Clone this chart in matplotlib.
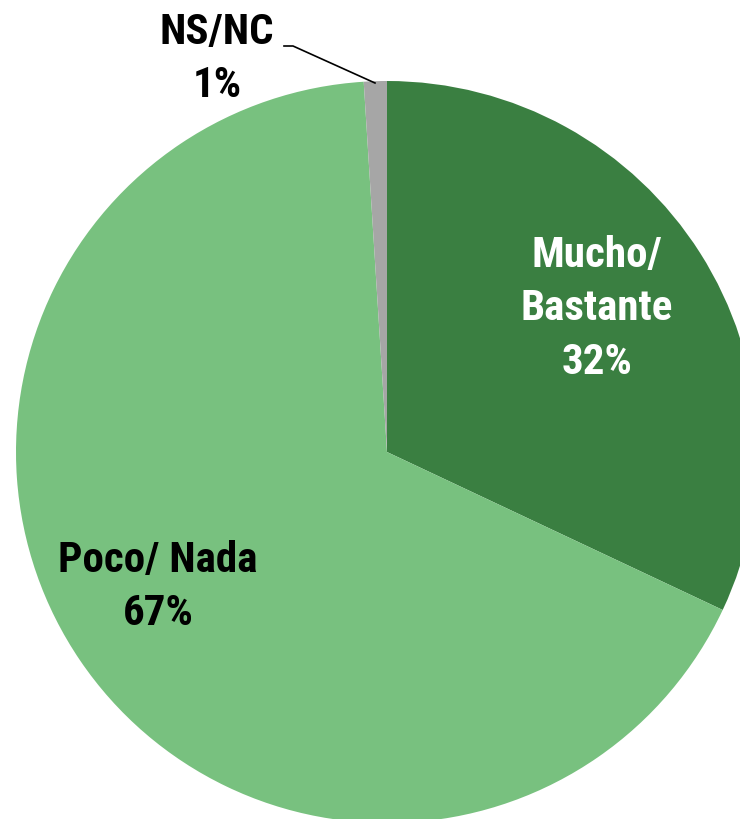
import matplotlib
matplotlib.use("Agg")
import matplotlib.pyplot as plt
from matplotlib import font_manager

categories = ["Mucho/\nBastante", "Poco/ Nada", "NS/NC"]
values = [32, 67, 1]
pct_labels = ["32%", "67%", "1%"]
colors = ["#3A7F41", "#78C17F", "#A6A6A6"]

names = {f.name for f in font_manager.fontManager.ttflist}
fam = [n for n in ["Liberation Sans Narrow", "Roboto Condensed", "Arial Narrow",
                   "Liberation Sans"] if n in names] + ["DejaVu Sans"]

W, H = 740, 819
fig = plt.figure(figsize=(W / 100, H / 100), dpi=100)
ax = fig.add_axes([0, 0, 1, 1])

cx, cy, r = 387, H - 452, 371
ax.pie(values, colors=colors, startangle=90, counterclock=False,
       center=(cx, cy), radius=r, frame=True,
       wedgeprops=dict(linewidth=0))
ax.set_xlim(0, W)
ax.set_ylim(0, H)
ax.set_aspect("equal")
ax.axis("off")

fs = 31
kw = dict(ha="center", va="center", fontsize=fs, fontweight="bold", family=fam,
          linespacing=1.38)
ax.text(597, H - 309, categories[0] + "\n" + pct_labels[0], color="white", **kw)
ax.text(158, H - 587, categories[1] + "\n" + pct_labels[1], color="black", **kw)
ax.text(217, H - 59, categories[2] + "\n" + pct_labels[2], color="black", **kw)
ax.plot([284, 293, 375], [H - 46, H - 46, H - 83], color="black", lw=1.2)

fig.savefig("out.png", dpi=100)
